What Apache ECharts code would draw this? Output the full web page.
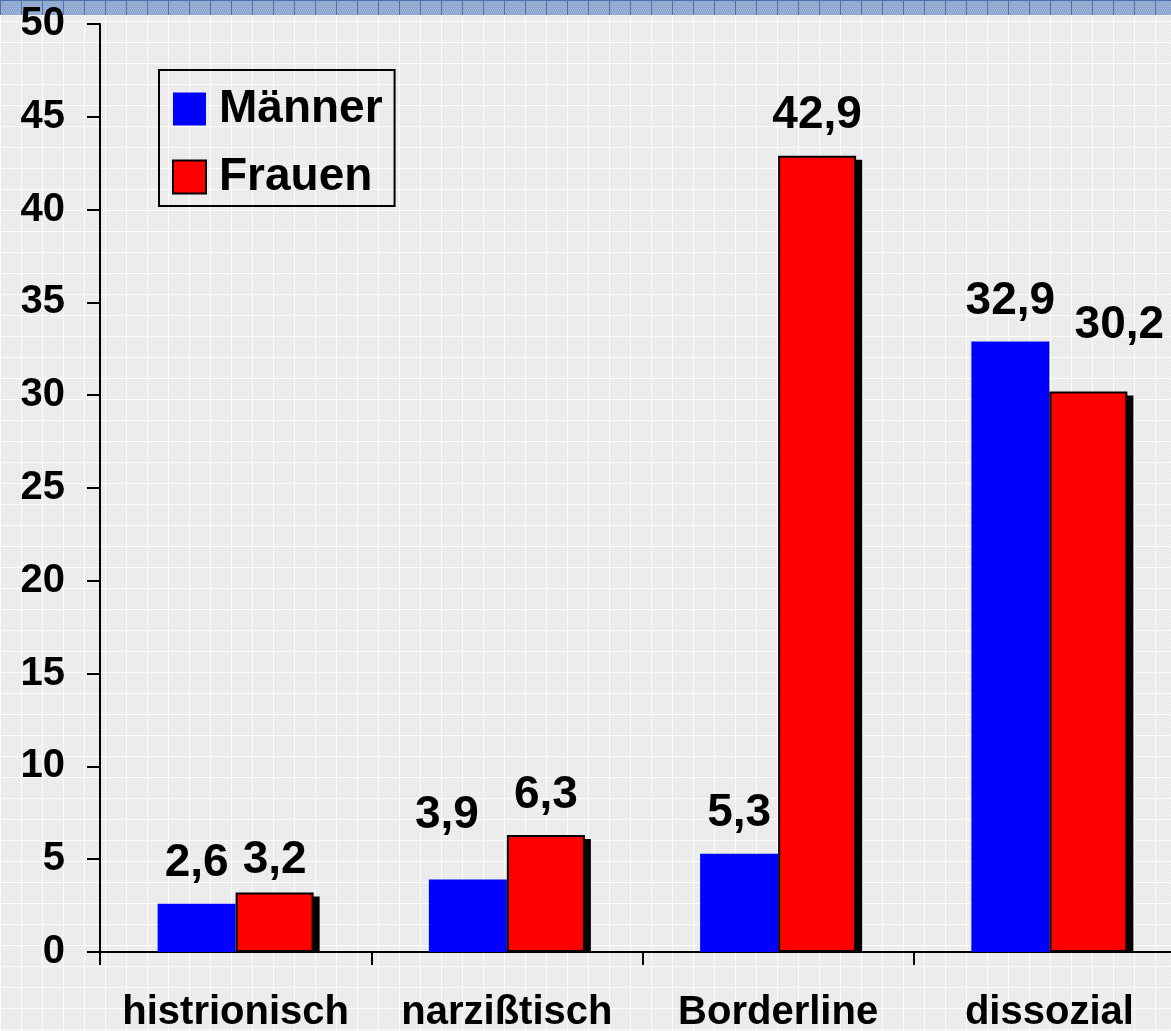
<!DOCTYPE html>
<html>
<head>
<meta charset="utf-8">
<script src="https://cdn.jsdelivr.net/npm/echarts@6/dist/echarts.min.js"></script>
<style>
  html, body { margin: 0; padding: 0; }
  #chart { width: 1171px; height: 1031px; }
</style>
</head>
<body>
<div id="chart"></div>
<script>
// Kategorien und Werte (Prozent)
var categories = ['histrionisch', 'narzißtisch', 'Borderline', 'dissozial'];
var maenner = [2.6, 3.9, 5.3, 32.9];
var frauen = [3.2, 6.3, 42.9, 30.2];
var yTicks = [0, 5, 10, 15, 20, 25, 30, 35, 40, 45, 50];

// Label-Verschiebungen wie im Original (Excel hat einige Labels versetzt)
var maennerLabelOffset = [[0, 0], [-21, -24], [0, 0], [0, 0]];
var frauenLabelOffset = [[0, 8], [0, 0], [0, 0], [31, -26]];

var FONT = '"Liberation Sans", Arial, sans-serif';
var BAR_W = 78;

// Hintergrund-Muster (hellgrau mit weissem Raster)
function makePattern(size, base, line, dots) {
  var c = document.createElement('canvas');
  c.width = size; c.height = size;
  var g = c.getContext('2d');
  g.fillStyle = base;
  g.fillRect(0, 0, size, size);
  g.fillStyle = dots;
  for (var y = 0; y < size; y += 2) {
    for (var x = (y / 2) % 2; x < size; x += 2) {
      g.fillRect(x, y, 1, 1);
    }
  }
  g.fillStyle = line;
  g.fillRect(0, 0, size, 1);
  g.fillRect(0, 0, 1, size);
  return c;
}
var bgPattern = makePattern(21, '#eeeeee', '#fcfcfc', '#e6e6e6');
var bandPattern = makePattern(21, '#8ca6d0', '#4e72aa', '#a9bcdc');

function withLabels(values, offsets) {
  return values.map(function (v, i) {
    return { value: v, label: { offset: offsets[i] } };
  });
}

var labelStyle = {
  show: true,
  position: 'top',
  distance: 17,
  fontFamily: FONT,
  fontWeight: 'bold',
  fontSize: 46,
  color: '#000',
  formatter: function (p) { return String(p.value).replace('.', ','); }
};

var chart = echarts.init(document.getElementById('chart'));
var option = {
  backgroundColor: { image: bgPattern, repeat: 'repeat' },
  animation: false,
  graphic: [{
    type: 'rect',
    left: 0, top: 0,
    shape: { width: 1171, height: 15 },
    style: { fill: { image: bandPattern, repeat: 'repeat' } },
    z: -10
  }],
  grid: { left: 100, top: 24, bottom: 79, width: 1085, outerBoundsMode: 'none' },
  legend: {
    orient: 'vertical',
    left: 159, top: 70,
    backgroundColor: 'transparent',
    borderColor: '#000',
    borderWidth: 2,
    borderRadius: 0,
    padding: [16, 12, 6, 13],
    itemWidth: 33, itemHeight: 33,
    itemGap: 22,
    icon: 'rect',
    textStyle: { fontFamily: FONT, fontWeight: 'bold', fontSize: 46, color: '#000', lineHeight: 40, padding: [0, 0, 0, 8] },
    data: ['Männer', 'Frauen']
  },
  xAxis: {
    type: 'category',
    data: categories,
    axisLine: { lineStyle: { color: '#000', width: 2 } },
    axisTick: { show: true, length: 13, lineStyle: { color: '#000', width: 2 } },
    axisLabel: { interval: 0, margin: 41, fontFamily: FONT, fontWeight: 'bold', fontSize: 40, color: '#000' }
  },
  yAxis: {
    type: 'value',
    min: yTicks[0], max: yTicks[yTicks.length - 1], interval: 5,
    splitLine: { show: false },
    axisLine: { show: true, lineStyle: { color: '#000', width: 2 } },
    axisTick: { show: true, length: 13, lineStyle: { color: '#000', width: 2 } },
    axisLabel: { margin: 35, fontFamily: FONT, fontWeight: 'bold', fontSize: 40, color: '#000' }
  },
  series: [{
    name: 'Männer',
    type: 'bar',
    barWidth: BAR_W,
    barGap: '0%',
    z: 3,
    itemStyle: { color: '#0000ff' },
    label: labelStyle,
    data: withLabels(maenner, maennerLabelOffset)
  }, {
    name: 'Frauen',
    type: 'bar',
    barWidth: BAR_W,
    barGap: '0%',
    z: 3,
    itemStyle: { color: '#ff0000', borderColor: '#000', borderWidth: 2 },
    label: labelStyle,
    data: withLabels(frauen, frauenLabelOffset)
  }, {
    // Schlagschatten hinter den roten Balken
    name: 'Schatten',
    type: 'custom',
    z: 2,
    silent: true,
    data: frauen.map(function (v, i) { return [i, v]; }),
    renderItem: function (params, api) {
      var top = api.coord([api.value(0), api.value(1)]);
      var base = api.coord([api.value(0), 0]);
      return {
        type: 'rect',
        shape: { x: top[0] + 6, y: top[1] + 4, width: BAR_W, height: base[1] - top[1] - 4 },
        style: { fill: '#000' }
      };
    }
  }]
};
chart.setOption(option);
</script>
</body>
</html>
